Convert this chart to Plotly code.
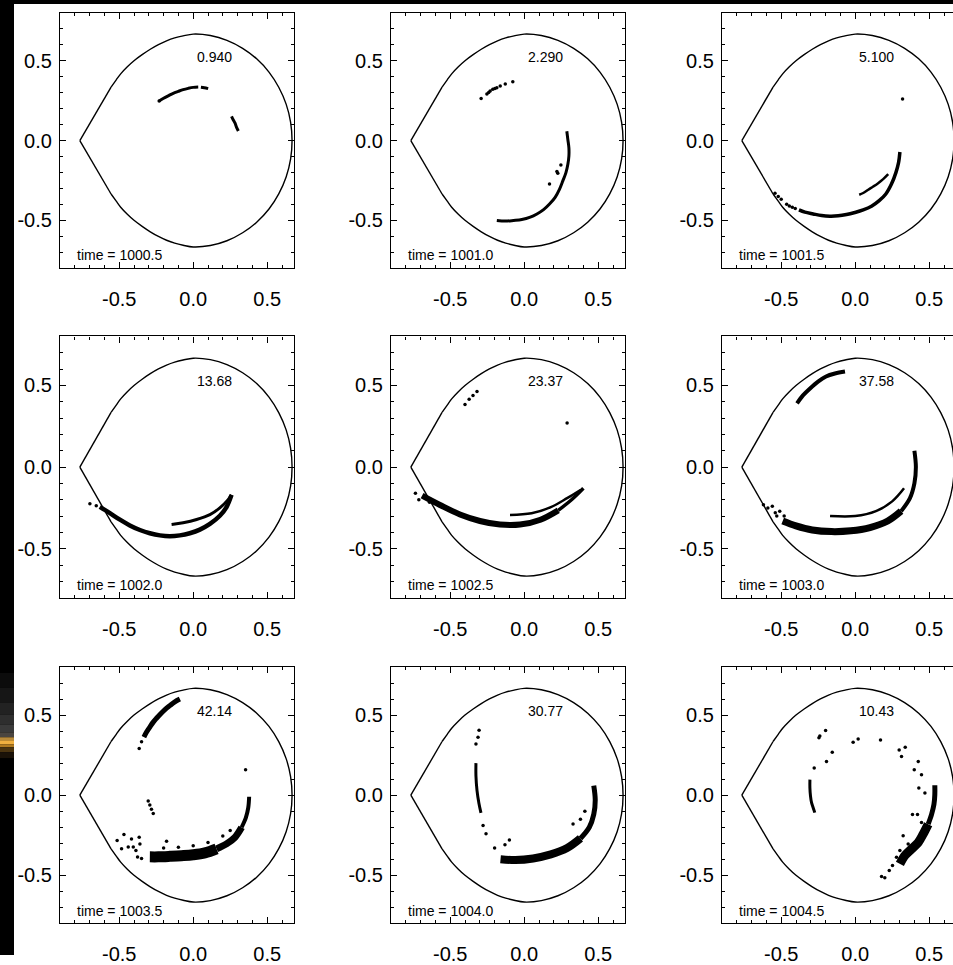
import plotly.graph_objects as go

# ---------------- data ----------------
TIMES = ["1000.5", "1001.0", "1001.5", "1002.0", "1002.5", "1003.0", "1003.5", "1004.0", "1004.5"]
ENERGIES = ["0.940", "2.290", "5.100", "13.68", "23.37", "37.58", "42.14", "30.77", "10.43"]
TICK_VALS = [-0.5, 0.0, 0.5]
TICK_TEXT = ["-0.5", "0.0", "0.5"]

BOUNDARY_X = [-0.766, -0.660, -0.555, -0.520, -0.490, -0.445, -0.400, -0.345, -0.290, -0.235,
              -0.180, -0.125, -0.068, 0.000, 0.116, 0.228, 0.334, 0.429, 0.512, 0.578, 0.628,
              0.658, 0.668,
              0.658, 0.628, 0.578, 0.512, 0.429, 0.334, 0.228, 0.116, 0.000, -0.068, -0.125,
              -0.180, -0.235, -0.290, -0.345, -0.400, -0.445, -0.490, -0.520, -0.555, -0.660, -0.766]
BOUNDARY_Y = [0.000, 0.168, 0.335, 0.380, 0.418, 0.462, 0.500, 0.538, 0.572, 0.601,
              0.625, 0.643, 0.656, 0.667, 0.658, 0.628, 0.578, 0.512, 0.429, 0.334, 0.228,
              0.116, 0.000,
              -0.116, -0.228, -0.334, -0.429, -0.512, -0.578, -0.628, -0.658, -0.667, -0.656, -0.643,
              -0.625, -0.601, -0.572, -0.538, -0.500, -0.462, -0.418, -0.380, -0.335, -0.168, 0.000]

# panel 1 (t = 1000.5)
P1_BAND_X = [[-0.230, -0.203, -0.169, -0.135, -0.101, -0.068, -0.034, 0.0, 0.034],
             [0.052, 0.075, 0.101],
             [0.259, 0.270, 0.282, 0.293, 0.305]]
P1_BAND_Y = [[0.248, 0.263, 0.280, 0.296, 0.308, 0.319, 0.327, 0.333, 0.335],
             [0.334, 0.331, 0.325],
             [0.151, 0.130, 0.110, 0.083, 0.060]]
P1_DOT_X = [-0.230]
P1_DOT_Y = [0.248]

# panel 2 (t = 1001.0)
P2_BAND_X = [[0.288, 0.295, 0.302, 0.302, 0.295, 0.282, 0.261, 0.239, 0.209, 0.171, 0.131,
              0.086, 0.041, -0.016, -0.072, -0.128, -0.185]]
P2_BAND_Y = [[0.058, 0.006, -0.046, -0.097, -0.149, -0.201, -0.253, -0.304, -0.356, -0.398,
              -0.433, -0.460, -0.480, -0.495, -0.501, -0.505, -0.501]]
P2_DOT_X = [-0.291, -0.252, -0.240, -0.230, -0.212, -0.198, -0.185, -0.162, -0.128, -0.077,
            0.248, 0.221, 0.227, 0.171]
P2_DOT_Y = [0.263, 0.292, 0.301, 0.311, 0.321, 0.326, 0.331, 0.342, 0.354, 0.369,
            -0.153, -0.194, -0.205, -0.273]

# panel 3 (t = 1001.5)
P3_BAND_X = [[0.302, 0.293, 0.275, 0.245, 0.207, 0.162, 0.110, 0.054, -0.002, -0.059,
              -0.115, -0.171, -0.227, -0.284, -0.340, -0.380],
             [0.223, 0.189, 0.155, 0.122, 0.088, 0.054, 0.027]]
P3_BAND_Y = [[-0.072, -0.139, -0.201, -0.273, -0.335, -0.377, -0.412, -0.435, -0.451, -0.464,
              -0.472, -0.474, -0.470, -0.460, -0.449, -0.435],
             [-0.211, -0.242, -0.267, -0.288, -0.308, -0.329, -0.340]]
P3_DOT_X = [0.320, -0.542, -0.520, -0.500, -0.463, -0.445, -0.425, -0.405]
P3_DOT_Y = [0.261, -0.331, -0.350, -0.368, -0.400, -0.410, -0.418, -0.426]

# panel 4 (t = 1002.0)
P4_BAND_X = [[-0.631, -0.563, -0.495, -0.428, -0.360, -0.293, -0.225, -0.158, -0.090, -0.023,
              0.045, 0.113, 0.180, 0.225, 0.259],
             [-0.146, -0.068, 0.023, 0.113, 0.180, 0.236, 0.259]]
P4_BAND_Y = [[-0.244, -0.282, -0.322, -0.357, -0.385, -0.405, -0.418, -0.423, -0.418, -0.405,
              -0.383, -0.348, -0.298, -0.245, -0.170],
             [-0.352, -0.341, -0.321, -0.291, -0.250, -0.199, -0.170]]
P4_DOT_X = [-0.698, -0.655]
P4_DOT_Y = [-0.224, -0.236]

# panel 5 (t = 1002.5)
P5_BAND_X = [[-0.690, -0.569, -0.434, -0.299, -0.164, -0.028, 0.110, 0.230],
             [0.230, 0.320, 0.400],
             [-0.096, 0.050, 0.180, 0.290, 0.380]]
P5_BAND_Y = [[-0.175, -0.232, -0.290, -0.330, -0.352, -0.352, -0.322, -0.265],
             [-0.265, -0.200, -0.130],
             [-0.293, -0.283, -0.245, -0.190, -0.140]]
P5_DOT_X = [-0.400, -0.372, -0.346, -0.319, 0.290, -0.735, -0.712, -0.660, -0.640]
P5_DOT_Y = [0.384, 0.415, 0.439, 0.463, 0.270, -0.160, -0.200, -0.190, -0.215]

# panel 6 (t = 1003.0)
P6_BAND_X = [[-0.393, -0.353, -0.305, -0.251, -0.197, -0.137, -0.069],
             [0.400, 0.410, 0.400, 0.370, 0.310],
             [0.310, 0.220, 0.100, -0.030, -0.160, -0.290, -0.400, -0.490],
             [-0.170, 0.000, 0.140, 0.250, 0.330]]
P6_BAND_Y = [[0.390, 0.439, 0.482, 0.524, 0.555, 0.573, 0.585],
             [0.100, 0.000, -0.100, -0.190, -0.270],
             [-0.270, -0.330, -0.370, -0.390, -0.395, -0.385, -0.360, -0.330],
             [-0.300, -0.300, -0.270, -0.210, -0.130]]
P6_DOT_X = [-0.620, -0.590, -0.560, -0.540, -0.510, -0.530, -0.480]
P6_DOT_Y = [-0.230, -0.250, -0.240, -0.280, -0.270, -0.300, -0.300]

# panel 7 (t = 1003.5)
P7_BAND_X = [[-0.333, -0.315, -0.293, -0.270, -0.248, -0.221, -0.191, -0.158, -0.124, -0.090],
             [0.378, 0.372, 0.356, 0.327],
             [0.327, 0.282, 0.225, 0.158],
             [0.158, 0.079, 0.000, -0.079, -0.158, -0.236, -0.293]]
P7_BAND_Y = [[0.363, 0.394, 0.425, 0.456, 0.480, 0.507, 0.534, 0.559, 0.583, 0.600],
             [-0.010, -0.078, -0.140, -0.201],
             [-0.201, -0.263, -0.304, -0.335],
             [-0.335, -0.360, -0.372, -0.378, -0.382, -0.385, -0.385]]
P7_DOT_X = [-0.365, -0.349, 0.354, -0.304, -0.293, -0.282, -0.270,
            -0.514, -0.468, -0.417, -0.405, -0.387, -0.365, -0.360, -0.376, -0.349, -0.484, -0.439,
            -0.180, -0.200, -0.100, 0.000, 0.100, 0.200, 0.250]
P7_DOT_Y = [0.292, 0.333, 0.158, -0.037, -0.062, -0.088, -0.115,
            -0.283, -0.246, -0.273, -0.324, -0.345, -0.263, -0.304, -0.386, -0.396, -0.335, -0.324,
            -0.287, -0.330, -0.325, -0.315, -0.295, -0.255, -0.220]

# panel 8 (t = 1004.0)
P8_BAND_X = [[-0.326, -0.326, -0.319, -0.306, -0.292],
             [0.470, 0.480, 0.470, 0.440, 0.380],
             [0.380, 0.290, 0.180, 0.060, -0.060, -0.160]]
P8_BAND_Y = [[0.200, 0.120, 0.030, -0.050, -0.110],
             [0.060, -0.030, -0.120, -0.200, -0.270],
             [-0.270, -0.330, -0.370, -0.395, -0.405, -0.400]]
P8_DOT_X = [-0.312, -0.305, -0.326, -0.278, -0.258, -0.130, -0.100, 0.330, 0.380, 0.410, -0.200]
P8_DOT_Y = [0.362, 0.405, 0.319, -0.190, -0.240, -0.310, -0.280, -0.180, -0.150, -0.100, -0.330]

# panel 9 (t = 1004.5)
P9_BAND_X = [[-0.306, -0.306, -0.302, -0.295, -0.284, -0.273],
             [0.538, 0.538, 0.532, 0.516, 0.493],
             [0.493, 0.459, 0.426, 0.381, 0.336, 0.302]]
P9_BAND_Y = [[0.097, 0.045, -0.006, -0.047, -0.078, -0.109],
             [0.062, 0.004, -0.058, -0.120, -0.181],
             [-0.181, -0.243, -0.295, -0.336, -0.377, -0.429]]
P9_DOT_X = [-0.277, -0.245, -0.239, -0.200, -0.155, -0.194, -0.014, 0.020, 0.171, 0.297, 0.338,
            0.313, 0.426, 0.399, 0.448, 0.430, 0.471, 0.421, 0.448, 0.324, 0.358, 0.252, 0.230,
            0.200, 0.178, 0.279, 0.302, 0.387]
P9_DOT_Y = [0.169, 0.359, 0.370, 0.404, 0.268, 0.210, 0.330, 0.351, 0.344, 0.282, 0.299,
            0.241, 0.210, 0.159, 0.128, 0.045, 0.014, -0.120, -0.171, -0.254, -0.305, -0.439, -0.470,
            -0.515, -0.507, -0.388, -0.346, -0.120]

BANDS_X = [P1_BAND_X, P2_BAND_X, P3_BAND_X, P4_BAND_X, P5_BAND_X, P6_BAND_X, P7_BAND_X, P8_BAND_X, P9_BAND_X]
BANDS_Y = [P1_BAND_Y, P2_BAND_Y, P3_BAND_Y, P4_BAND_Y, P5_BAND_Y, P6_BAND_Y, P7_BAND_Y, P8_BAND_Y, P9_BAND_Y]
DOTS_X = [P1_DOT_X, P2_DOT_X, P3_DOT_X, P4_DOT_X, P5_DOT_X, P6_DOT_X, P7_DOT_X, P8_DOT_X, P9_DOT_X]
DOTS_Y = [P1_DOT_Y, P2_DOT_Y, P3_DOT_Y, P4_DOT_Y, P5_DOT_Y, P6_DOT_Y, P7_DOT_Y, P8_DOT_Y, P9_DOT_Y]

# ---------------- styles / layout ----------------
BAND_WIDTHS = [[3, 3, 3], [3], [3.5, 2.5], [4.5, 3], [6, 3.5, 2.5], [4, 4, 7, 2.5],
               [5, 4, 7, 11], [3, 5, 8], [3, 5, 9]]

W, H = 953, 965
COL_L = [60, 391, 722]
COL_R = [294, 625, 953]
ROW_T = [13, 340, 674]
ROW_B = [271, 604, 933]
PX_PER_UNIT = 148.0
X_MIN = -0.9
Y_RANGE = [-0.8, 0.8]
FONT = "Liberation Sans, Arial, Helvetica, sans-serif"

# boundary pieces: straight edges at the cusp, smooth arc elsewhere
N_B = len(BOUNDARY_X)
BOUNDARY_PIECES = [(0, 3, "linear"), (2, N_B - 2, "spline"), (N_B - 3, N_B, "linear")]

fig = go.Figure()
layout = dict(
    width=W, height=H, margin=dict(l=0, r=0, t=0, b=0),
    paper_bgcolor="white", plot_bgcolor="white", showlegend=False,
    font=dict(family=FONT, color="black"),
)

annotations = []
for k in range(9):
    r, c = divmod(k, 3)
    n = k + 1
    xa = "xaxis" if n == 1 else f"xaxis{n}"
    ya = "yaxis" if n == 1 else f"yaxis{n}"
    xref = "x" if n == 1 else f"x{n}"
    yref = "y" if n == 1 else f"y{n}"
    x_max = X_MIN + (COL_R[c] - COL_L[c]) / PX_PER_UNIT
    common = dict(
        showgrid=False, zeroline=False, showline=True, linecolor="black", linewidth=1.3,
        ticks="inside", ticklen=6, tickwidth=1, tickcolor="black",
        tickvals=TICK_VALS, ticktext=TICK_TEXT,
        tickfont=dict(family=FONT, size=20, color="black"),
        minor=dict(tickmode="linear", tick0=0, dtick=0.1, ticks="inside", ticklen=3,
                   tickwidth=1, tickcolor="black", showgrid=False),
        fixedrange=True,
    )
    layout[xa] = dict(common, domain=[COL_L[c] / W, COL_R[c] / W], range=[X_MIN, x_max],
                      anchor=yref, mirror="allticks", ticklabelstandoff=13)
    layout[ya] = dict(common, domain=[1 - ROW_B[r] / H, 1 - ROW_T[r] / H], range=Y_RANGE,
                      anchor=xref, mirror="allticks" if c < 2 else False, ticklabelstandoff=3)

    for i0, i1, shp in BOUNDARY_PIECES:
        fig.add_trace(go.Scatter(x=BOUNDARY_X[i0:i1], y=BOUNDARY_Y[i0:i1], mode="lines",
                                 xaxis=xref, yaxis=yref,
                                 line=dict(color="black", width=1.4, shape=shp),
                                 hoverinfo="skip"))
    for bx, by, bw in zip(BANDS_X[k], BANDS_Y[k], BAND_WIDTHS[k]):
        fig.add_trace(go.Scatter(x=bx, y=by, mode="lines", xaxis=xref, yaxis=yref,
                                 line=dict(color="black", width=bw, shape="spline"),
                                 hoverinfo="skip"))
    fig.add_trace(go.Scatter(x=DOTS_X[k], y=DOTS_Y[k], mode="markers", xaxis=xref, yaxis=yref,
                             marker=dict(color="black", size=3.5, line=dict(width=0)),
                             hoverinfo="skip"))
    annotations.append(dict(x=0.145, y=0.525, xref=xref, yref=yref, text=ENERGIES[k],
                            showarrow=False, xanchor="center", yanchor="middle",
                            font=dict(family=FONT, size=14, color="black")))
    annotations.append(dict(x=-0.80, y=-0.72, xref=xref, yref=yref, text="time = " + TIMES[k],
                            showarrow=False, xanchor="left", yanchor="middle",
                            font=dict(family=FONT, size=14, color="black")))

shapes = [
    dict(type="rect", xref="paper", yref="paper", x0=0, x1=14 / W, y0=0, y1=1,
         fillcolor="black", line=dict(width=0), layer="above"),
    dict(type="rect", xref="paper", yref="paper", x0=0, x1=1, y0=1 - 4 / H, y1=1,
         fillcolor="black", line=dict(width=0), layer="above"),
]
# glow in the left strip
glow = [(680, 695, "#0c0c0c"), (695, 710, "#161616"), (710, 722, "#222222"), (722, 732, "#2e2e2e"),
        (732, 740, "#3a3a3a"), (740, 745, "#4a4540"), (745, 748, "#b88a3a"), (748, 752, "#f0b040"),
        (752, 755, "#b07a20"), (755, 760, "#4a3410"), (760, 766, "#1a1208")]
for y0, y1, col in glow:
    shapes.append(dict(type="rect", xref="paper", yref="paper", x0=0, x1=14 / W,
                       y0=1 - y1 / H, y1=1 - y0 / H, fillcolor=col, line=dict(width=0), layer="above"))

layout["annotations"] = annotations
layout["shapes"] = shapes
fig.update_layout(**layout)
fig.write_html("out.html")
